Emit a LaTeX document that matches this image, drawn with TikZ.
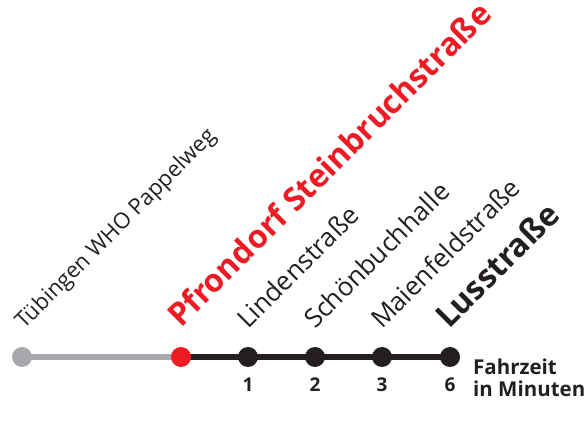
\documentclass[tikz,border=0pt]{standalone}
\usepackage{fontspec}
\setmainfont{Open Sans}
\usetikzlibrary{backgrounds}
\definecolor{lred}{HTML}{ED1C24}
\definecolor{lgray}{HTML}{A7A9AC}
\definecolor{lblack}{HTML}{231F20}
\begin{document}
\begin{tikzpicture}[x=1pt,y=1pt,
  stop/.style={circle,fill=lblack,minimum size=20pt,inner sep=0pt},
  lbl/.style={rotate=45,anchor=base west,inner sep=0pt,text=lblack,font=\fontsize{26}{30}\selectfont},
  num/.style={anchor=base,inner sep=0pt,text=lblack,font=\fontsize{19}{22}\selectfont\bfseries}]
\useasboundingbox (0,0) rectangle (585,427);
\node[stop,fill=lgray] (s0) at (22,70) {};
\node[stop,fill=lred] (s1) at (181,70) {};
\node[stop] (s2) at (248,70) {};
\node[stop] (s3) at (315,70) {};
\node[stop] (s4) at (382,70) {};
\node[stop] (s5) at (450,70) {};
\begin{scope}[on background layer]
\draw[line width=6pt,lgray] (s0.center) -- (s1.center);
\draw[line width=6pt,lblack] (s1.center) -- (s5.center);
\end{scope}
\node[lbl,font=\fontsize{22}{26}\selectfont] (l0) at (24,97) {Tübingen WHO Pappelweg};
\node[lbl,text=lred,font=\fontsize{32}{36}\selectfont\bfseries] (l1) at (181,98) {Pfrondorf Steinbruchstraße};
\node[lbl] (l2) at (248,97) {Lindenstraße};
\node[lbl] (l3) at (315,97) {Schönbuchhalle};
\node[lbl] (l4) at (382,97) {Maienfeldstraße};
\node[lbl,font=\fontsize{32}{36}\selectfont\bfseries] (l5) at (449,97) {Lusstraße};
\node[num] (n2) at (248,35) {1};
\node[num] (n3) at (315,35) {2};
\node[num] (n4) at (382,35) {3};
\node[num] (n5) at (450,35) {6};
\node[num,anchor=base west,align=left,font=\fontsize{20.5}{22}\selectfont\bfseries] (ft) at (473,30) {Fahrzeit\\in Minuten};
\end{tikzpicture}
\end{document}
